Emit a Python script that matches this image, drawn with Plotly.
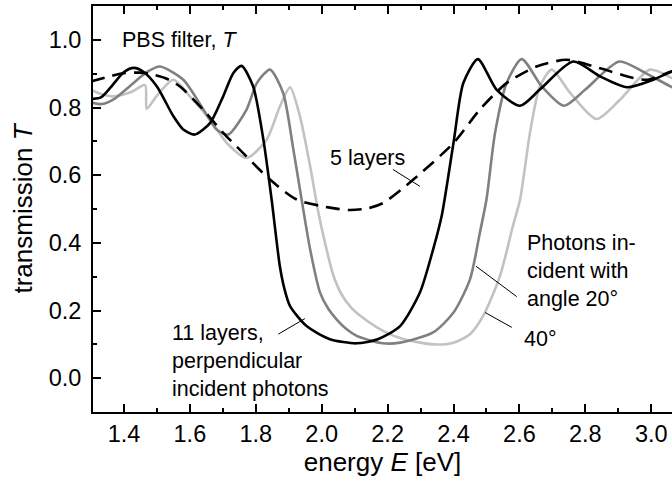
import plotly.graph_objects as go

# ---- data ----
E_black = [1.30, 1.33, 1.36, 1.40, 1.43, 1.46, 1.50, 1.55, 1.58, 1.615, 1.661, 1.701, 1.732, 1.757,
           1.792, 1.823, 1.848, 1.873, 1.888, 1.904, 1.954, 2.025, 2.106, 2.17, 2.238, 2.298, 2.338, 2.364,
           2.40, 2.43, 2.474, 2.531, 2.602, 2.662, 2.763, 2.845, 2.926, 3.006, 3.063, 3.10]
T_black = [0.825, 0.83, 0.86, 0.905, 0.917, 0.905, 0.862, 0.774, 0.735, 0.72, 0.754, 0.833, 0.902, 0.923,
           0.862, 0.705, 0.528, 0.331, 0.26, 0.213, 0.154, 0.115, 0.103, 0.115, 0.154, 0.253, 0.38, 0.479,
           0.696, 0.873, 0.943, 0.852, 0.805, 0.853, 0.936, 0.892, 0.86, 0.882, 0.907, 0.92]

E_gray = [1.30, 1.33, 1.37, 1.42, 1.47, 1.509, 1.58, 1.641, 1.681, 1.716, 1.772, 1.803, 1.843,
          1.883, 1.914, 1.939, 1.965, 1.995, 2.02, 2.045, 2.075, 2.106, 2.186, 2.238, 2.338, 2.40, 2.45, 2.48,
          2.50, 2.526, 2.561, 2.607, 2.668, 2.735, 2.80, 2.903, 2.984, 3.063, 3.10]
T_gray = [0.815, 0.81, 0.825, 0.865, 0.905, 0.921, 0.882, 0.794, 0.735, 0.72, 0.794, 0.872, 0.912,
          0.843, 0.676, 0.528, 0.38, 0.253, 0.205, 0.174, 0.145, 0.125, 0.103, 0.105, 0.135, 0.194, 0.292, 0.43,
          0.528, 0.725, 0.872, 0.943, 0.862, 0.805, 0.853, 0.936, 0.901, 0.86, 0.845]

E_light = [1.30, 1.33, 1.368, 1.42, 1.464, 1.469, 1.50, 1.55, 1.60, 1.661, 1.712, 1.772, 1.833,
           1.873, 1.904, 1.934, 1.965, 1.99, 2.015, 2.035, 2.06, 2.09, 2.12, 2.186, 2.25, 2.339, 2.40, 2.45, 2.49,
           2.541, 2.58, 2.602, 2.632, 2.662, 2.698, 2.754, 2.834, 2.905, 2.996, 3.063, 3.10]
T_light = [0.852, 0.84, 0.833, 0.845, 0.866, 0.796, 0.835, 0.882, 0.833, 0.764, 0.695, 0.651, 0.705,
           0.803, 0.86, 0.774, 0.626, 0.489, 0.38, 0.305, 0.248, 0.208, 0.182, 0.14, 0.115, 0.10, 0.105, 0.13, 0.184,
           0.302, 0.449, 0.528, 0.725, 0.862, 0.912, 0.843, 0.766, 0.823, 0.912, 0.887, 0.87]

E_five = [1.30, 1.35, 1.398, 1.45, 1.489, 1.53, 1.57, 1.64, 1.701, 1.761, 1.843, 1.924, 2.025,
          2.086, 2.14, 2.187, 2.278, 2.40, 2.48, 2.561, 2.652, 2.743, 2.845, 2.946, 2.99, 3.063, 3.10]
T_five = [0.877, 0.89, 0.901, 0.903, 0.897, 0.885, 0.862, 0.794, 0.725, 0.666, 0.587, 0.528, 0.504,
          0.497, 0.502, 0.518, 0.587, 0.695, 0.794, 0.872, 0.921, 0.941, 0.916, 0.887, 0.882, 0.907, 0.915]

x_ticks = [1.4, 1.6, 1.8, 2.0, 2.2, 2.4, 2.6, 2.8, 3.0]
y_ticks = [0.0, 0.2, 0.4, 0.6, 0.8, 1.0]

FONT = "Liberation Sans, Arial, sans-serif"
SMOOTH = 0.7

fig = go.Figure()
fig.add_trace(go.Scatter(x=E_light, y=T_light, mode="lines",
                         line=dict(color="#c2c2c2", width=2.6, shape="spline", smoothing=SMOOTH)))
fig.add_trace(go.Scatter(x=E_gray, y=T_gray, mode="lines",
                         line=dict(color="#808080", width=2.6, shape="spline", smoothing=SMOOTH)))
fig.add_trace(go.Scatter(x=E_black, y=T_black, mode="lines",
                         line=dict(color="#000000", width=2.6, shape="spline", smoothing=SMOOTH)))
fig.add_trace(go.Scatter(x=E_five, y=T_five, mode="lines",
                         line=dict(color="#000000", width=2.6, shape="spline", smoothing=SMOOTH,
                                   dash="14px,8px")))

ann_font = dict(family=FONT, size=21.5, color="black")
annotations = [
    dict(x=1.388, y=1.0, text="PBS filter, <i>T</i>"),
    dict(x=2.019, y=0.652, text="5 layers"),
    dict(x=1.540, y=0.05, text="11 layers,<br>perpendicular<br>incident photons"),
    dict(x=2.617, y=0.317, text="Photons in-<br>cident with<br>angle 20°"),
    dict(x=2.607, y=0.115, text="40°"),
]
for a in annotations:
    a.update(xref="x", yref="y", xanchor="left", yanchor="middle", align="left",
             showarrow=False, font=ann_font)

leaders = [
    (2.216, 0.617, 2.298, 0.567),
    (1.868, 0.130, 1.949, 0.176),
    (2.468, 0.331, 2.592, 0.241),
    (2.496, 0.194, 2.577, 0.150),
]
shapes = [dict(type="line", xref="x", yref="y", x0=a, y0=b, x1=c, y1=d,
               line=dict(color="black", width=1)) for a, b, c, d in leaders]

fig.update_layout(
    width=672, height=483,
    margin=dict(l=93, r=0, t=6, b=71),
    paper_bgcolor="white", plot_bgcolor="white",
    showlegend=False,
    annotations=annotations,
    shapes=shapes,
    font=dict(family=FONT, color="black"),
)
fig.update_xaxes(
    range=[1.306, 3.063], tickvals=x_ticks, ticktext=[f"{v:.1f}" for v in x_ticks],
    ticks="inside", ticklen=8, tickwidth=1.5, tickcolor="black",
    minor=dict(ticks="inside", ticklen=4, dtick=0.1, tick0=1.4, tickcolor="black", tickwidth=1.5),
    showline=True, linecolor="black", linewidth=2, mirror="allticks",
    showgrid=False, zeroline=False,
    tickfont=dict(size=23.5, family=FONT, color="black"),
    ticklabelstandoff=0,
    title=dict(text="energy <i>E</i> [eV]", font=dict(size=26, family=FONT, color="black"), standoff=0),
)
fig.update_yaxes(
    range=[-0.1, 1.1], tickvals=y_ticks, ticktext=[f"{v:.1f}" for v in y_ticks],
    ticks="inside", ticklen=8, tickwidth=1.5, tickcolor="black",
    minor=dict(ticks="inside", ticklen=4, dtick=0.1, tick0=0.0, tickcolor="black", tickwidth=1.5),
    showline=True, linecolor="black", linewidth=2, mirror=False,
    showgrid=False, zeroline=False,
    tickfont=dict(size=23.5, family=FONT, color="black"),
    ticklabelstandoff=5,
    title=dict(text="transmission <i>T</i>", font=dict(size=26, family=FONT, color="black"), standoff=9),
)

fig.write_html("out.html")
